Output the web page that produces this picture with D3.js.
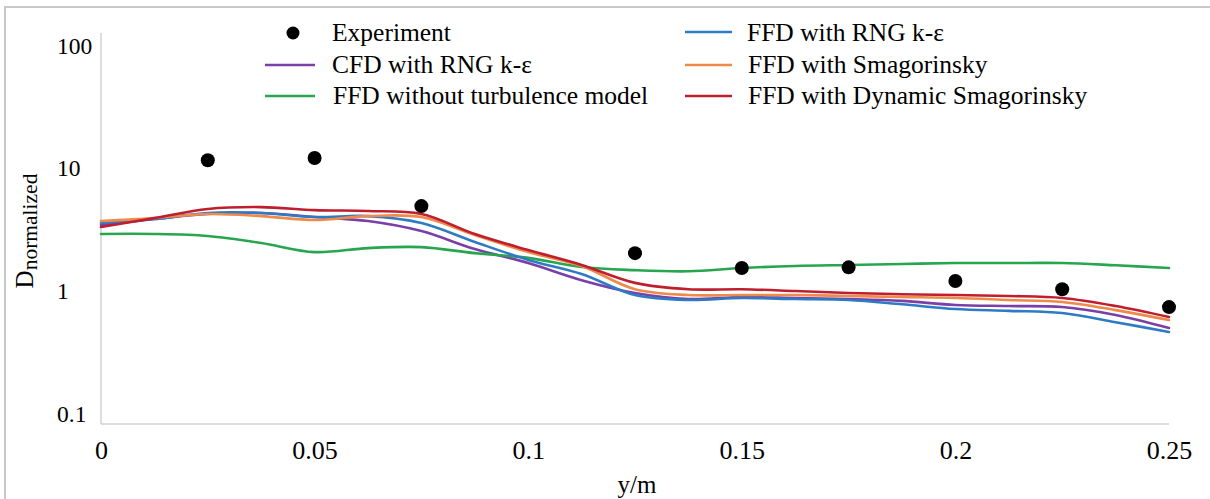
<!DOCTYPE html>
<html>
<head>
<meta charset="utf-8">
<script src="https://cdn.jsdelivr.net/npm/d3@7"></script>
<style>
  html, body { margin: 0; padding: 0; background: #fff; }
  svg { display: block; }
  svg text { font-family: "Liberation Serif", "Times New Roman", "DejaVu Serif", serif; }
</style>
</head>
<body>
<svg id="chart" width="1210" height="499"></svg>
<script>
// Sampling positions (y/m) for the simulated profiles
const yPos = [0, 0.0125, 0.025, 0.0375, 0.05, 0.0625, 0.075, 0.0875, 0.1, 0.1125,
              0.125, 0.1375, 0.15, 0.1625, 0.175, 0.1875, 0.2, 0.2125, 0.225, 0.2375, 0.25];

// Normalized D for each model
const cfdRng      = [3.41, 3.81, 4.19, 4.27, 3.96, 3.67, 3.04, 2.17, 1.67, 1.21,
                     0.951, 0.849, 0.882, 0.866, 0.849, 0.82, 0.759, 0.745, 0.731, 0.63, 0.493];
const ffdNoModel  = [2.88, 2.88, 2.77, 2.43, 2.05, 2.21, 2.25, 2.01, 1.84, 1.55,
                     1.46, 1.43, 1.52, 1.58, 1.61, 1.64, 1.67, 1.67, 1.67, 1.60, 1.52];
const ffdRng      = [3.54, 3.81, 4.27, 4.27, 3.96, 4.03, 3.54, 2.48, 1.77, 1.36,
                     0.916, 0.834, 0.866, 0.849, 0.834, 0.77, 0.704, 0.68, 0.653, 0.55, 0.457];
const ffdSmag     = [3.67, 3.88, 4.19, 4.03, 3.74, 4.03, 3.96, 2.82, 2.05, 1.58,
                     1.02, 0.916, 0.916, 0.916, 0.899, 0.882, 0.866, 0.834, 0.803, 0.69, 0.573];
const ffdDynSmag  = [3.28, 3.88, 4.60, 4.77, 4.51, 4.43, 4.19, 2.88, 2.13, 1.61,
                     1.15, 1.02, 1.02, 0.987, 0.951, 0.93, 0.916, 0.899, 0.866, 0.745, 0.606];

// Measured values
const expY = [0.025, 0.05, 0.075, 0.125, 0.15, 0.175, 0.2, 0.225, 0.25];
const expD = [11.5, 12.0, 4.86, 2.01, 1.52, 1.54, 1.19, 1.02, 0.73];

// Axis ticks
const xTicks = [0, 0.05, 0.1, 0.15, 0.2, 0.25];
const xTickLabels = ["0", "0.05", "0.1", "0.15", "0.2", "0.25"];
const yTicks = [0.1, 1, 10, 100];
const yTickLabels = ["0.1", "1", "10", "100"];

const seriesNames = ["CFD with RNG k-\u03B5", "FFD without turbulence model", "FFD with RNG k-\u03B5",
                     "FFD with Smagorinsky", "FFD with Dynamic Smagorinsky"];
const seriesColors = ["#7B3FA8", "#27A54F", "#2E7BC4", "#EE8A4A", "#BE1E2D"];
const seriesValues = [cfdRng, ffdNoModel, ffdRng, ffdSmag, ffdDynSmag];

const FONT = "'Liberation Serif', 'Times New Roman', 'DejaVu Serif', serif";
const svg = d3.select("#chart");

// Outer frame
svg.append("rect")
  .attr("x", 5).attr("y", 7)
  .attr("width", 1300).attr("height", 600)
  .attr("fill", "none").attr("stroke", "#c8c8c8").attr("stroke-width", 2);

const x = d3.scaleLinear().domain([0, 0.25]).range([101, 1169]);
const y = d3.scaleLog().domain([0.1, 100]).range([413, 45]);

// Plot frame lines (axes)
svg.append("line")
  .attr("x1", x(0)).attr("x2", x(0)).attr("y1", 33).attr("y2", 424)
  .attr("stroke", "#d2d2d2").attr("stroke-width", 1.5);
svg.append("line")
  .attr("x1", x(0)).attr("x2", x(0.25)).attr("y1", 424).attr("y2", 424)
  .attr("stroke", "#d2d2d2").attr("stroke-width", 1.5);

// Y axis labels
const yAxis = d3.axisLeft(y)
  .tickValues(yTicks)
  .tickFormat((d, i) => yTickLabels[i])
  .tickSize(0);
const gy = svg.append("g").attr("transform", `translate(${x(0)},0)`).call(yAxis);
gy.attr("font-family", null).attr("font-size", null);
gy.select(".domain").remove();
gy.selectAll("text")
  .attr("x", -44)
  .attr("dy", "0.35em")
  .attr("text-anchor", "start")
  .attr("fill", "#000")
  .style("font-family", FONT)
  .style("font-size", "23.5px");

// X axis labels
const xAxis = d3.axisBottom(x)
  .tickValues(xTicks)
  .tickFormat((d, i) => xTickLabels[i])
  .tickSize(0)
  .tickPadding(17);
const gx = svg.append("g").attr("transform", "translate(0,424)").call(xAxis);
gx.attr("font-family", null).attr("font-size", null);
gx.select(".domain").remove();
gx.selectAll("text")
  .attr("fill", "#000")
  .style("font-family", FONT)
  .style("font-size", "26px");

// Axis titles
svg.append("text")
  .attr("x", 637).attr("y", 493)
  .attr("text-anchor", "middle")
  .style("font-family", FONT)
  .style("font-size", "25px")
  .text("y/m");

const yTitle = svg.append("text")
  .attr("transform", "translate(33,231) rotate(-90)")
  .attr("text-anchor", "middle")
  .style("font-family", FONT)
  .style("font-size", "25px");
yTitle.append("tspan").text("D");
yTitle.append("tspan").attr("dy", 4).style("font-size", "21.5px").text("normalized");

// Model curves
const line = d3.line()
  .x((d, i) => x(yPos[i]))
  .y(d => y(d))
  .curve(d3.curveCatmullRom.alpha(0.5));

seriesValues.forEach((vals, k) => {
  svg.append("path")
    .datum(vals)
    .attr("d", line)
    .attr("fill", "none")
    .attr("stroke", seriesColors[k])
    .attr("stroke-width", 2.6)
    .attr("stroke-linejoin", "round")
    .attr("stroke-linecap", "round");
});

// Experiment points
svg.append("g").selectAll("circle")
  .data(expD)
  .join("circle")
  .attr("cx", (d, i) => x(expY[i]))
  .attr("cy", d => y(d))
  .attr("r", 7)
  .attr("fill", "#000");

// Legend
const legend = svg.append("g");
const legendItems = [
  { label: "Experiment", type: "dot", color: "#000", sx: 265, tx: 332, row: 0 },
  { label: seriesNames[0], type: "line", color: seriesColors[0], sx: 265, tx: 332, row: 1 },
  { label: seriesNames[1], type: "line", color: seriesColors[1], sx: 265, tx: 333, row: 2 },
  { label: seriesNames[2], type: "line", color: seriesColors[2], sx: 685, tx: 747, row: 0 },
  { label: seriesNames[3], type: "line", color: seriesColors[3], sx: 685, tx: 748, row: 1 },
  { label: seriesNames[4], type: "line", color: seriesColors[4], sx: 685, tx: 748, row: 2 }
];
const rowSymbolY = [32, 65, 96];
const rowTextY = [41, 73, 104];
legendItems.forEach(it => {
  if (it.type === "dot") {
    legend.append("circle")
      .attr("cx", it.sx + 28).attr("cy", rowSymbolY[it.row] + 1)
      .attr("r", 6.5).attr("fill", it.color);
  } else {
    legend.append("line")
      .attr("x1", it.sx).attr("x2", it.sx + (it.sx < 500 ? 50 : 47))
      .attr("y1", rowSymbolY[it.row]).attr("y2", rowSymbolY[it.row])
      .attr("stroke", it.color).attr("stroke-width", 2.6);
  }
  legend.append("text")
    .attr("x", it.tx).attr("y", rowTextY[it.row])
    .attr("fill", "#000")
    .style("font-family", FONT)
    .style("font-size", "25.5px")
    .text(it.label);
});
</script>
</body>
</html>
